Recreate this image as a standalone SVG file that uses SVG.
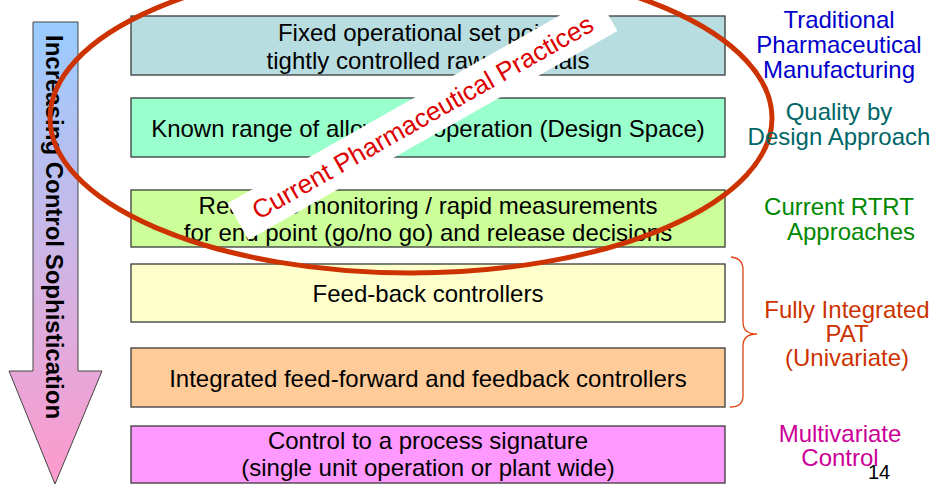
<svg xmlns="http://www.w3.org/2000/svg" width="935" height="485" viewBox="0 0 935 485">
<defs>
<linearGradient id="arrowGrad" gradientUnits="userSpaceOnUse" x1="0" y1="22" x2="0" y2="485">
<stop offset="0" stop-color="#99ccff"/>
<stop offset="0.45" stop-color="#c8b8e8"/>
<stop offset="1" stop-color="#ff99cc"/>
</linearGradient>
<style>
.box{stroke:#3a3a3a;stroke-width:1.3}
.bt{font-family:"Liberation Sans",Arial,sans-serif;font-size:24px;fill:#000;text-anchor:middle}
.rl{font-family:"Liberation Sans",Arial,sans-serif;font-size:24px;text-anchor:middle}
</style>
</defs>
<rect width="935" height="485" fill="#fff"/>

<g id="arrow">
<path d="M33,22 H78 V371 H102 L55,484 L9,371 H33 Z" fill="url(#arrowGrad)" stroke="#444" stroke-width="1"/>
<text transform="translate(46,35) rotate(90)" font-family="Liberation Sans,Arial,sans-serif" font-weight="bold" font-size="24" fill="#000">Increasing Control Sophistication</text>
</g>

<g id="box1">
<rect class="box" x="131" y="16" width="594" height="59" fill="#b8dde0"/>
<text class="bt" x="428" y="41">Fixed operational set points,</text>
<text class="bt" x="428" y="69">tightly controlled raw materials</text>
</g>
<g id="box2">
<rect class="box" x="131" y="98" width="594" height="59" fill="#99ffcc"/>
<text class="bt" x="428" y="137">Known range of allowable operation (Design Space)</text>
</g>
<g id="box3">
<rect class="box" x="131" y="190" width="594" height="57" fill="#ccff99"/>
<text class="bt" x="428" y="214">Real time monitoring / rapid measurements</text>
<text class="bt" x="428" y="241">for end point (go/no go) and release decisions</text>
</g>
<g id="box4">
<rect class="box" x="131" y="264" width="594" height="58" fill="#ffffcc"/>
<text class="bt" x="428" y="302">Feed-back controllers</text>
</g>
<g id="box5">
<rect class="box" x="131" y="348" width="594" height="59" fill="#ffcc99"/>
<text class="bt" x="428" y="387">Integrated feed-forward and feedback controllers</text>
</g>
<g id="box6">
<rect class="box" x="131" y="426" width="594" height="57" fill="#ff99ff"/>
<text class="bt" x="428" y="449">Control to a process signature</text>
<text class="bt" x="428" y="476">(single unit operation or plant wide)</text>
</g>

<g id="ellipse">
<ellipse cx="411" cy="118" rx="361" ry="155" fill="none" stroke="#cc3300" stroke-width="5"/>
</g>

<g id="practices" transform="translate(427,125) rotate(-29.5)">
<rect x="-212" y="-30" width="424" height="42" fill="#fff"/>
<text x="0" y="0" font-family="Liberation Sans,Arial,sans-serif" font-size="26" fill="#dd0000" text-anchor="middle">Current Pharmaceutical Practices</text>
</g>

<g id="labels">
<g id="lab-traditional" fill="#0000cc">
<text class="rl" x="839" y="28">Traditional</text>
<text class="rl" x="839" y="53">Pharmaceutical</text>
<text class="rl" x="839" y="78">Manufacturing</text>
</g>
<g id="lab-qbd" fill="#006666">
<text class="rl" x="839" y="120">Quality by</text>
<text class="rl" x="839" y="145">Design Approach</text>
</g>
<g id="lab-rtrt" fill="#008800">
<text class="rl" x="839" y="215">Current RTRT</text>
<text class="rl" x="851" y="240">Approaches</text>
</g>
<g id="lab-pat" fill="#cc3300">
<text class="rl" x="847" y="318">Fully Integrated</text>
<text class="rl" x="847" y="342">PAT</text>
<text class="rl" x="847" y="366">(Univariate)</text>
</g>
<g id="lab-mv" fill="#cc0099">
<text class="rl" x="840" y="442">Multivariate</text>
<text class="rl" x="840" y="466">Control</text>
</g>
</g>

<g id="connectors">
<path d="M731,257 Q743,258 743,270 V322 Q743,334 757,334 Q743,334 743,346 V396 Q743,407 730,407" fill="none" stroke="#dd4411" stroke-width="1.3"/>
</g>

<text x="868" y="479" font-family="Liberation Sans,Arial,sans-serif" font-size="20" fill="#000">14</text>
</svg>
